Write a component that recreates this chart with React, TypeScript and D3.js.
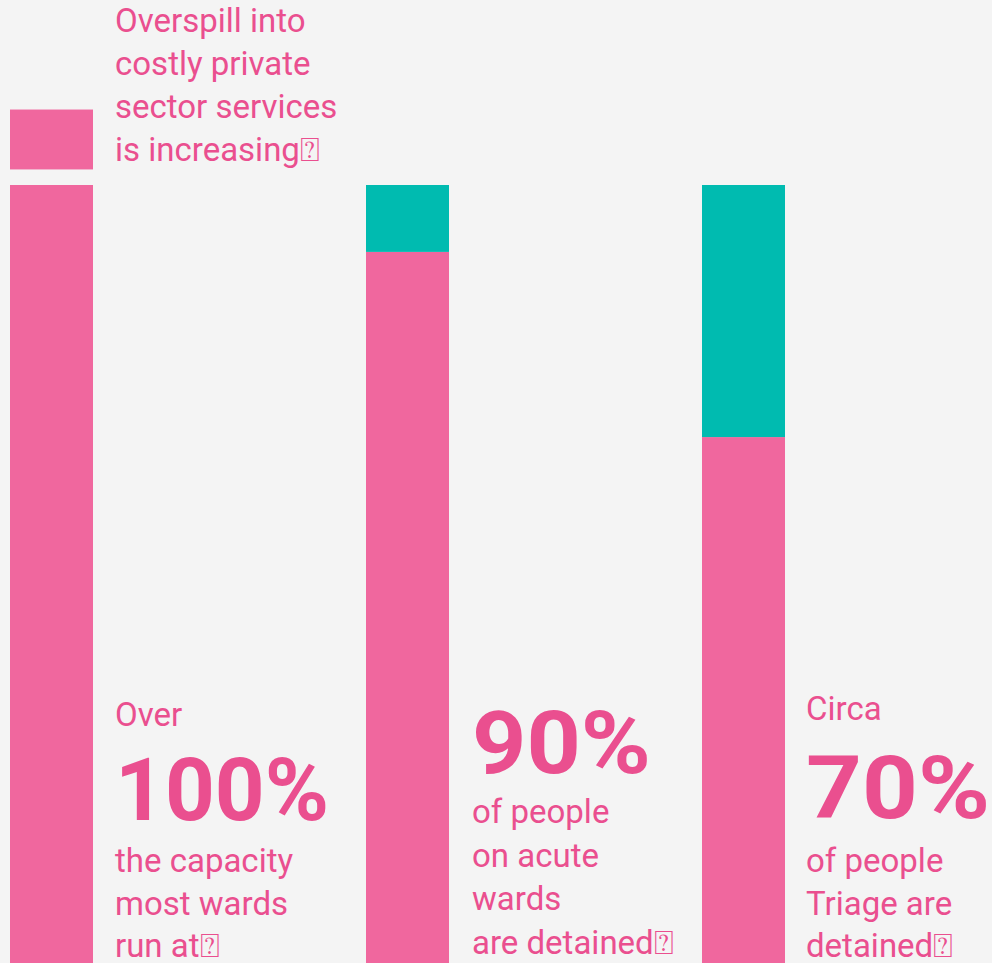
import { useEffect, useRef } from 'react';
import * as d3 from 'd3';

// data (percent of bar height)
const categories = ['capacity', 'acute', 'triage'];
const detainedValues = [100, 91.4, 67.6];
const otherValues = [0, 8.6, 32.4];
const overspillValue = 7.7;

const overspillLines = ['Overspill into', 'costly private', 'sector services', 'is increasing\u2370'];
const preLabels = ['Over', '', 'Circa'];
const bigLabels = ['100%', '90%', '70%'];
const noteLines = [
  ['the capacity', 'most wards', 'run at\u2370'],
  ['of people', 'on acute', 'wards', 'are detained\u2370'],
  ['of people', 'Triage are', 'detained\u2370'],
];

const W = 992;
const H = 963;
const PINK = '#f0679e';
const TEAL = '#00bbb0';
const TEXT = '#ea4f8f';
const FONT = 'Roboto, "DejaVu Sans", sans-serif';

const App = () => {
  const svgRef = useRef<SVGSVGElement | null>(null);

  useEffect(() => {
    document.body.style.margin = '0';
    document.body.style.background = '#f4f4f4';
    if (!svgRef.current) return;
    const svg = d3.select(svgRef.current);
    svg.selectAll('*').remove();

    const barW = 83;
    const x = d3.scaleOrdinal<string, number>().domain(categories).range([10, 366, 702]);
    const y = d3.scaleLinear().domain([0, 100]).range([H, 185]);

    svg.append('rect').attr('width', W).attr('height', H).attr('fill', '#f4f4f4');

    const rows = categories.map((c, i) => ({ c, det: detainedValues[i], oth: otherValues[i] }));

    // pink (detained / capacity) segment
    svg.append('g').selectAll('rect')
      .data(rows)
      .join('rect')
      .attr('x', d => x(d.c))
      .attr('y', d => y(d.det))
      .attr('width', barW)
      .attr('height', d => y(0) - y(d.det))
      .attr('fill', PINK);

    // teal remainder
    svg.append('g').selectAll('rect')
      .data(rows.filter(d => d.oth > 0))
      .join('rect')
      .attr('x', d => x(d.c))
      .attr('y', d => y(d.det + d.oth))
      .attr('width', barW)
      .attr('height', d => y(d.det) - y(d.det + d.oth))
      .attr('fill', TEAL);

    // overspill block above first bar, with a gap
    const gap = 2;
    svg.append('rect')
      .attr('x', x(categories[0]))
      .attr('y', y(100 + gap + overspillValue))
      .attr('width', barW)
      .attr('height', y(100 + gap) - y(100 + gap + overspillValue))
      .attr('fill', PINK);

    const small = 33;
    const lh = 43;

    const ov = svg.append('text')
      .attr('font-family', FONT)
      .attr('font-size', small)
      .attr('fill', TEXT);
    overspillLines.forEach((t, i) => {
      ov.append('tspan').attr('x', 115).attr('y', 32 + i * lh).text(t);
    });

    const textX = [115, 472, 806];
    const preY = [726, 0, 720];
    const bigY = [820, 773, 818];
    const bigW = [214, 179, 184];
    const noteY = [872, 823, 872];

    categories.forEach((c, i) => {
      const g = svg.append('g')
        .attr('font-family', FONT)
        .attr('fill', TEXT);
      if (preLabels[i]) {
        g.append('text')
          .attr('x', textX[i]).attr('y', preY[i])
          .attr('font-size', small)
          .text(preLabels[i]);
      }
      g.append('text')
        .attr('x', textX[i]).attr('y', bigY[i])
        .attr('font-size', 87)
        .attr('font-weight', 700)
        .attr('textLength', bigW[i])
        .attr('lengthAdjust', 'spacingAndGlyphs')
        .text(bigLabels[i]);
      const note = g.append('text').attr('font-size', small);
      const step = i === 1 ? 43.5 : 42.5;
      noteLines[i].forEach((t, j) => {
        note.append('tspan').attr('x', textX[i]).attr('y', noteY[i] + j * step).text(t);
      });
    });
  }, []);

  return <svg ref={svgRef} width={W} height={H} style={{ display: 'block' }} />;
};

export default App;
